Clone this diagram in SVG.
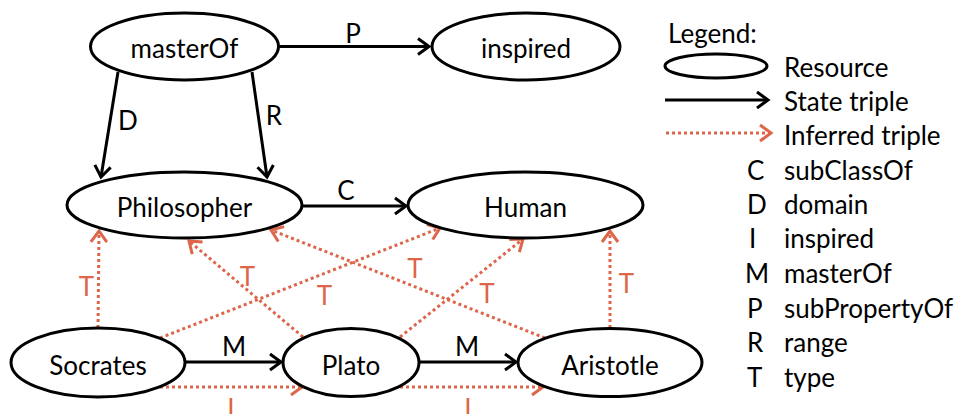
<svg xmlns="http://www.w3.org/2000/svg" width="958" height="414" viewBox="0 0 958 414">
<style>
.node{fill:#fff;stroke:#000;stroke-width:3}
.lbl{font-family:Lato,"Liberation Sans",sans-serif;font-size:26px;fill:#000;text-anchor:middle}
.elbl{font-family:Lato,"Liberation Sans",sans-serif;font-size:26px;fill:#000;text-anchor:middle}
.olbl{font-family:Lato,"Liberation Sans",sans-serif;font-size:26px;fill:#DD654A;text-anchor:middle}
.leg{font-family:Lato,"Liberation Sans",sans-serif;font-size:26px;fill:#000}
.st{stroke:#000;stroke-width:3;fill:none;marker-end:url(#ab)}
.inf{stroke:#DD654A;stroke-width:3;fill:none;stroke-dasharray:3 3;marker-end:url(#ao)}
</style>
<defs>
<marker id="ab" markerUnits="userSpaceOnUse" viewBox="0 0 14 18" refX="12" refY="9" markerWidth="14" markerHeight="18" orient="auto" overflow="visible">
<path d="M1,1 L12,9 L1,17" fill="none" stroke="#000" stroke-width="3"/>
</marker>
<marker id="ao" markerUnits="userSpaceOnUse" viewBox="0 0 14 18" refX="12" refY="9" markerWidth="14" markerHeight="18" orient="auto" overflow="visible">
<path d="M1,1 L12,9 L1,17" fill="none" stroke="#DD654A" stroke-width="3"/>
</marker>
</defs>

<g id="connectors">
<line class="st" x1="279" y1="46.5" x2="429" y2="46.5"/>
<line class="st" x1="118" y1="72" x2="101" y2="177"/>
<line class="st" x1="252" y1="72" x2="267" y2="177"/>
<line class="st" x1="303" y1="206" x2="406" y2="206"/>
<line class="st" x1="186" y1="362" x2="281" y2="362"/>
<line class="st" x1="420" y1="362" x2="516" y2="362"/>
<line class="inf" x1="160" y1="387" x2="302" y2="387"/>
<line class="inf" x1="400" y1="387" x2="543" y2="387"/>
<line class="inf" x1="98" y1="328" x2="99" y2="231"/>
<line class="inf" x1="160" y1="338" x2="440" y2="228"/>
<line class="inf" x1="303" y1="337" x2="189" y2="241"/>
<line class="inf" x1="400" y1="337" x2="523" y2="239"/>
<line class="inf" x1="545" y1="338" x2="271" y2="230"/>
<line class="inf" x1="610" y1="328" x2="610" y2="231"/>
<text class="elbl" x="353" y="43">P</text>
<text class="elbl" x="128" y="130">D</text>
<text class="elbl" x="274" y="125">R</text>
<text class="elbl" x="346" y="200">C</text>
<text class="elbl" x="234" y="356">M</text>
<text class="elbl" x="467" y="356">M</text>
<text class="olbl" x="231" y="418">I</text>
<text class="olbl" x="468" y="418">I</text>
<text class="olbl" x="86.5" y="296">T</text>
<text class="olbl" x="247.5" y="286">T</text>
<text class="olbl" x="324.5" y="305">T</text>
<text class="olbl" x="415" y="278">T</text>
<text class="olbl" x="487" y="303">T</text>
<text class="olbl" x="626.5" y="293">T</text>
</g>

<g id="masterOf"><ellipse class="node" cx="184.5" cy="46.5" rx="94" ry="33.5"/><text class="lbl" x="184.5" y="58">masterOf</text></g>
<g id="inspired"><ellipse class="node" cx="526" cy="46.5" rx="94" ry="33.5"/><text class="lbl" x="526" y="58">inspired</text></g>
<g id="Philosopher"><ellipse class="node" cx="184.5" cy="205" rx="117.5" ry="33"/><text class="lbl" x="184.5" y="217">Philosopher</text></g>
<g id="Human"><ellipse class="node" cx="525.5" cy="205" rx="117.5" ry="33"/><text class="lbl" x="525.5" y="217">Human</text></g>
<g id="Socrates"><ellipse class="node" cx="98" cy="362.5" rx="87" ry="34.5"/><text class="lbl" x="98" y="375">Socrates</text></g>
<g id="Plato"><ellipse class="node" cx="351" cy="362.5" rx="68" ry="34"/><text class="lbl" x="351" y="375">Plato</text></g>
<g id="Aristotle"><ellipse class="node" cx="610" cy="362.5" rx="92" ry="34"/><text class="lbl" x="610" y="375">Aristotle</text></g>

<g id="legend">
<text class="leg" x="668" y="43">Legend:</text>
<ellipse cx="716" cy="66" rx="51" ry="12" fill="none" stroke="#000" stroke-width="3"/>
<text class="leg" x="784" y="77">Resource</text>
<line class="st" x1="665" y1="100" x2="768" y2="100"/>
<text class="leg" x="784" y="111">State triple</text>
<line class="inf" x1="666" y1="133" x2="771" y2="133"/>
<text class="leg" x="784" y="145">Inferred triple</text>
<text class="leg" x="747" y="180">C</text><text class="leg" x="784" y="180">subClassOf</text>
<text class="leg" x="747" y="214">D</text><text class="leg" x="784" y="214">domain</text>
<text class="leg" x="749" y="248">I</text><text class="leg" x="784" y="248">inspired</text>
<text class="leg" x="745" y="283">M</text><text class="leg" x="784" y="283">masterOf</text>
<text class="leg" x="747" y="318">P</text><text class="leg" x="784" y="318">subPropertyOf</text>
<text class="leg" x="747" y="352">R</text><text class="leg" x="784" y="352">range</text>
<text class="leg" x="747" y="387">T</text><text class="leg" x="784" y="387">type</text>
</g>
</svg>
